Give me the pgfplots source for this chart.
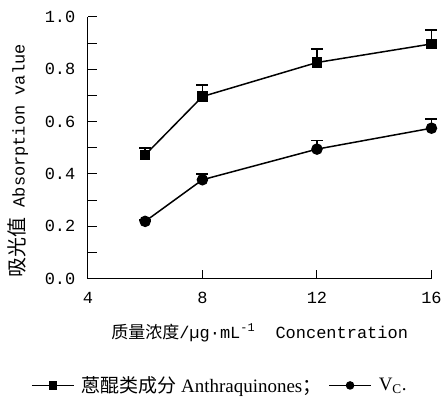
\documentclass[border=0pt]{standalone}
\usepackage{pgfplots}
\pgfplotsset{compat=1.18}
\usepackage{fontspec}
\setmainfont{Liberation Serif}
\setmonofont{Liberation Mono}
\newfontfamily\cjk{Noto Sans CJK SC}
\begin{document}
\begin{tikzpicture}
\begin{axis}[
  scale only axis, width=344pt, height=262pt,
  xmin=4, xmax=16, ymin=0, ymax=1,
  axis x line*=bottom, axis y line*=left,
  xtick={4,8,12,16}, hide obscured x ticks=false, hide obscured y ticks=false,
  ytick={0,0.2,0.4,0.6,0.8,1.0}, minor y tick num=1,
  tick align=inside, major tick length=9pt, minor tick length=9pt,
  tick style={line width=1pt, black},
  axis line style={line width=1.2pt},
  /pgf/number format/assume math mode=true,
  yticklabel style={/pgf/number format/.cd, fixed, fixed zerofill, precision=1, /tikz/.cd, xshift=-9pt},
  xticklabel style={yshift=-10pt},
  tick label style={font=\fontsize{17}{17}\ttfamily},
  legend columns=2,
  legend style={draw=none, fill=none, at={(0.384,-0.408)}, anchor=center,
    font=\fontsize{19}{19}\selectfont, column sep=5pt},
  legend image code/.code={\draw[mark repeat=2,mark phase=2,mark size=3.5pt] plot coordinates {(0pt,0pt)(21pt,0pt)(42pt,0pt)};},
  clip=false,
]
\addplot[black, line width=1.5pt, mark=square*, mark size=4.5pt,
  error bars/.cd, y dir=plus, y explicit,
  error bar style={line width=1.5pt},
  error mark options={rotate=90, mark size=6pt, line width=1.5pt}]
  coordinates {(6,0.473) +- (0,0.027) (8,0.696) +- (0,0.045) (12,0.826) +- (0,0.052) (16,0.897) +- (0,0.053)};
\addlegendentry{{\cjk 蒽醌类成分} Anthraquinones{\cjk ；}}
\addplot[black, line width=1.5pt, mark=*, mark size=5pt,
  error bars/.cd, y dir=plus, y explicit,
  error bar style={line width=1.5pt},
  error mark options={rotate=90, mark size=6pt, line width=1.5pt}]
  coordinates {(6,0.219) +- (0,0.006) (8,0.378) +- (0,0.022) (12,0.495) +- (0,0.033) (16,0.575) +- (0,0.036)};
\addlegendentry{V\textsubscript{C}.}
\node[rotate=90, font=\fontsize{17}{17}\ttfamily] at ([xshift=-70pt]rel axis cs:0,0.45) {{\cjk\fontsize{20}{20}\selectfont 吸光值}\ Absorption value};
\node[font=\fontsize{17}{17}\ttfamily] at ([yshift=-54pt]rel axis cs:0.5,0) {{\cjk 质量浓度}/µg·mL\textsuperscript{-1}\ \ Concentration};
\end{axis}
\path[use as bounding box] (-88pt,-120pt) rectangle (357pt,262pt+17pt);
\end{tikzpicture}
\end{document}
